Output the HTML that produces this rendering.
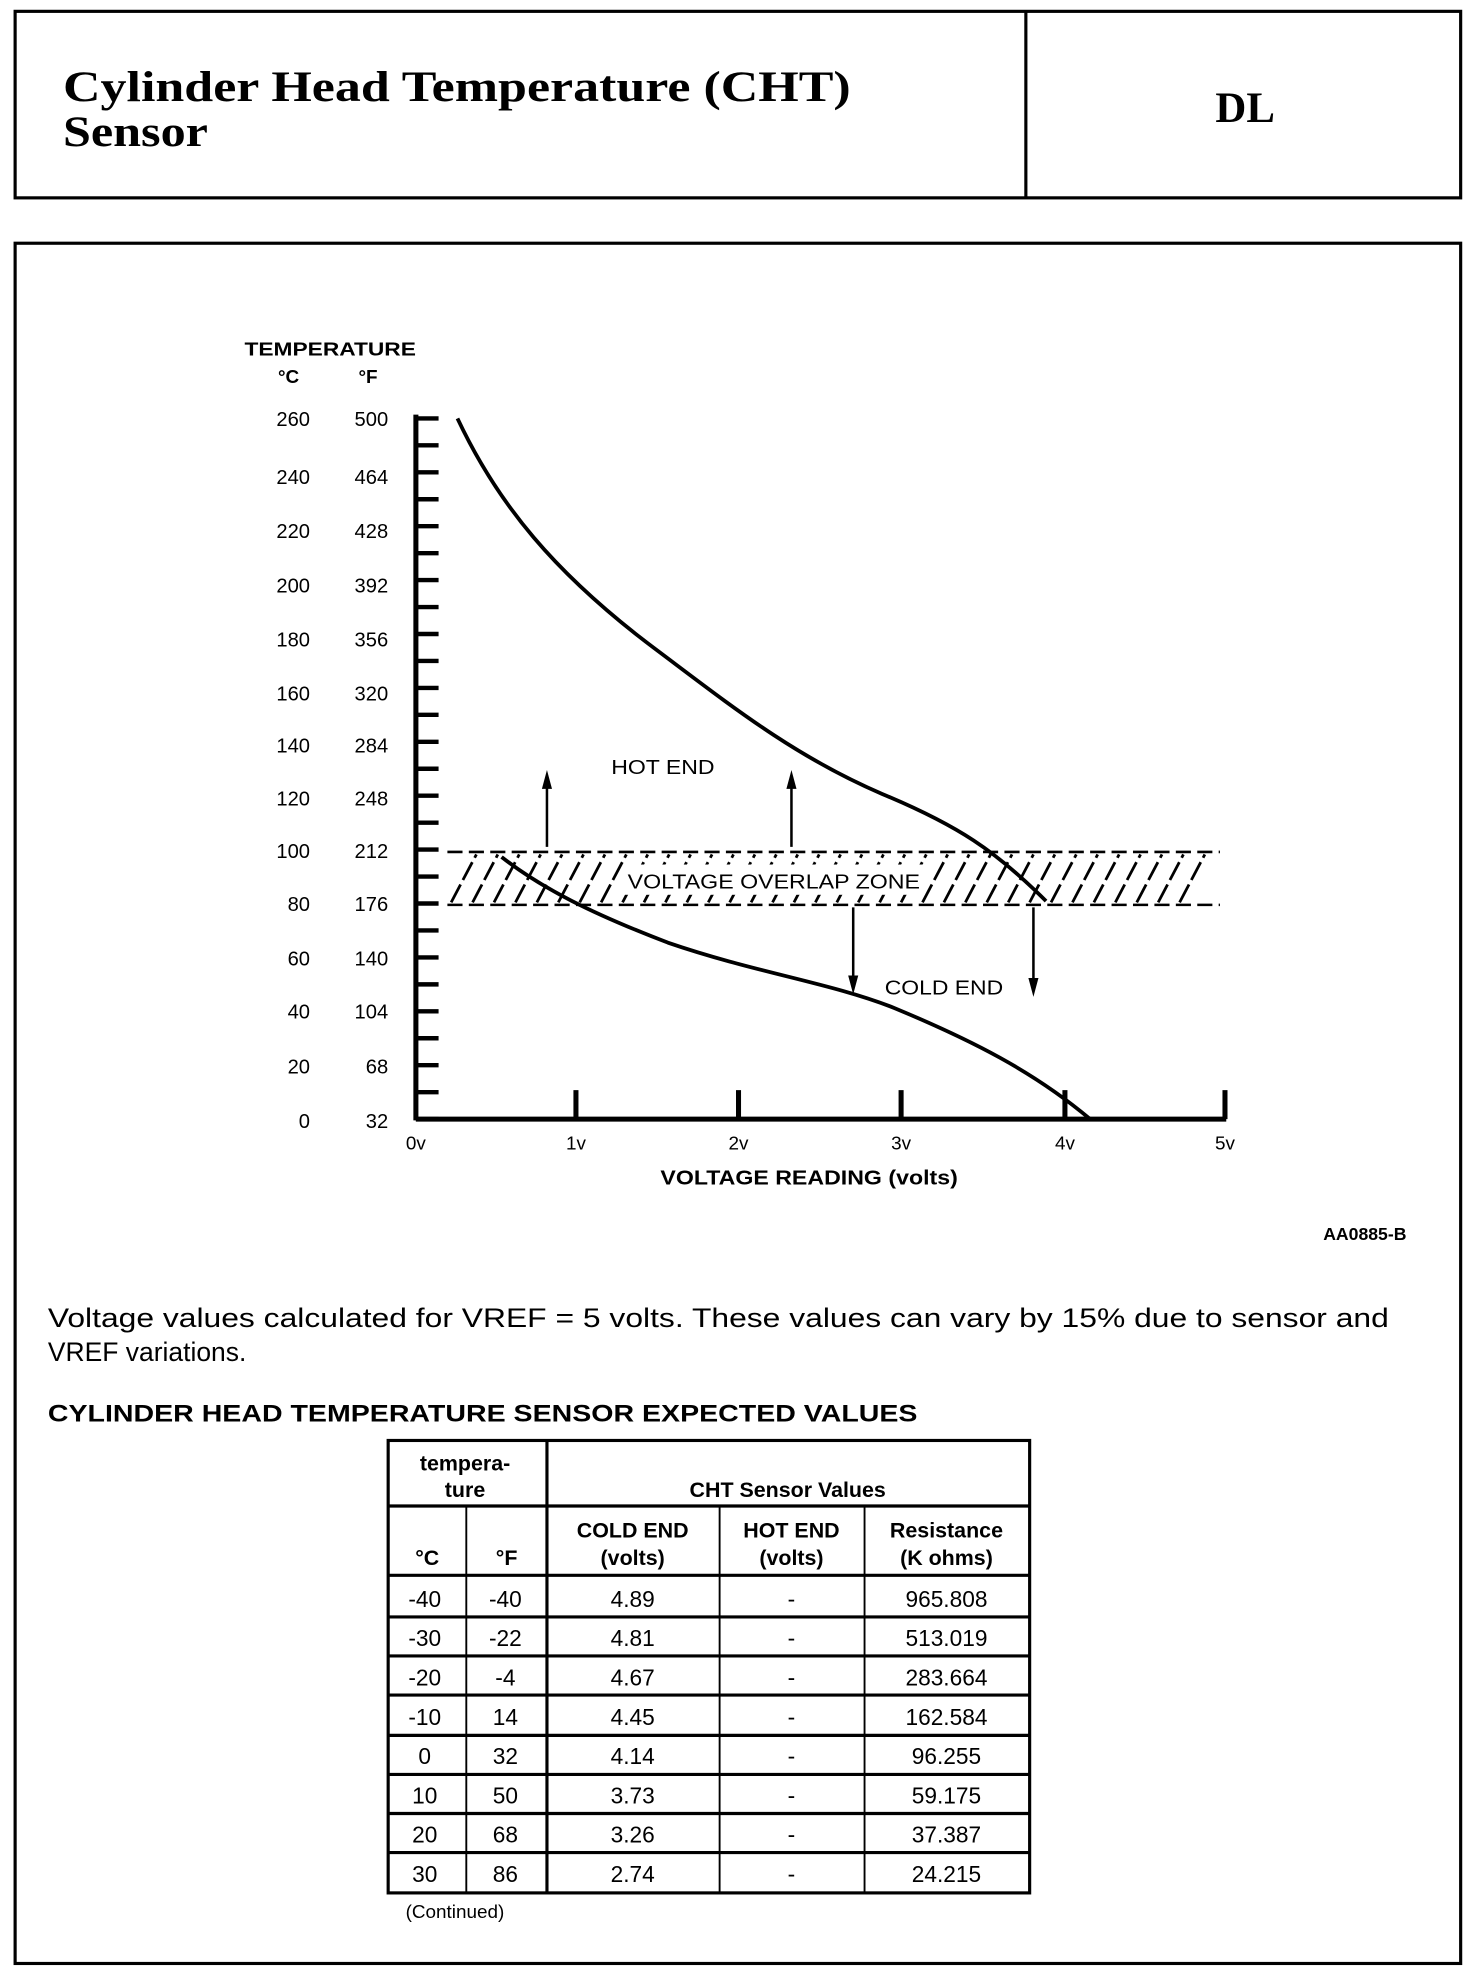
<!DOCTYPE html>
<html><head><meta charset="utf-8"><style>
html,body{margin:0;padding:0;background:#fff}
svg{display:block}
text{font-family:"Liberation Sans",Arial,sans-serif;fill:#000}
.s{font-family:"Liberation Serif","Times New Roman",serif;font-weight:bold}
.b{font-weight:bold}
</style></head><body>
<svg width="1472" height="1966" viewBox="0 0 1168 1560" preserveAspectRatio="none">
<!-- header -->
<rect x="12" y="9" width="1147" height="148" fill="none" stroke="#000" stroke-width="2.5"/>
<line x1="814" y1="9" x2="814" y2="157" stroke="#000" stroke-width="2.5"/>
<text class="s" x="50" y="80" font-size="34" textLength="625" lengthAdjust="spacingAndGlyphs">Cylinder Head Temperature (CHT)</text>
<text class="s" x="50" y="116" font-size="34" textLength="115" lengthAdjust="spacingAndGlyphs">Sensor</text>
<text class="s" x="988" y="97" font-size="34" text-anchor="middle">DL</text>
<!-- main box -->
<rect x="12" y="193" width="1147" height="1365" fill="none" stroke="#000" stroke-width="2.5"/>
<!-- axis labels -->
<text class="b" x="262" y="282" font-size="15" text-anchor="middle" textLength="136" lengthAdjust="spacingAndGlyphs">TEMPERATURE</text>
<text class="b" x="229" y="304" font-size="15" text-anchor="middle">°C</text>
<text class="b" x="292" y="304" font-size="15" text-anchor="middle">°F</text>
<g font-size="16" text-anchor="end">
<text x="246" y="338">260</text><text x="308" y="338">500</text>
<text x="246" y="384">240</text><text x="308" y="384">464</text>
<text x="246" y="427">220</text><text x="308" y="427">428</text>
<text x="246" y="470">200</text><text x="308" y="470">392</text>
<text x="246" y="513">180</text><text x="308" y="513">356</text>
<text x="246" y="556">160</text><text x="308" y="556">320</text>
<text x="246" y="597">140</text><text x="308" y="597">284</text>
<text x="246" y="639">120</text><text x="308" y="639">248</text>
<text x="246" y="681">100</text><text x="308" y="681">212</text>
<text x="246" y="723">80</text><text x="308" y="723">176</text>
<text x="246" y="766">60</text><text x="308" y="766">140</text>
<text x="246" y="808">40</text><text x="308" y="808">104</text>
<text x="246" y="852">20</text><text x="308" y="852">68</text>
<text x="246" y="895">0</text><text x="308" y="895">32</text>
</g>
<!-- axes -->
<line x1="330" y1="329" x2="330" y2="889" stroke="#000" stroke-width="4"/>
<line x1="330" y1="888" x2="973" y2="888" stroke="#000" stroke-width="4"/>
<g stroke="#000" stroke-width="3.5" id="ticks"></g>
<g stroke="#000" stroke-width="4">
<line x1="457" y1="865" x2="457" y2="888"/><line x1="586" y1="865" x2="586" y2="888"/>
<line x1="715" y1="865" x2="715" y2="888"/><line x1="845" y1="865" x2="845" y2="888"/>
<line x1="972" y1="865" x2="972" y2="888"/>
</g>
<g font-size="15" text-anchor="middle">
<text x="330" y="912">0v</text><text x="457" y="912">1v</text><text x="586" y="912">2v</text>
<text x="715" y="912">3v</text><text x="845" y="912">4v</text><text x="972" y="912">5v</text>
</g>
<text class="b" x="642" y="940" font-size="16" text-anchor="middle" textLength="236" lengthAdjust="spacingAndGlyphs">VOLTAGE READING (volts)</text>
<!-- overlap zone -->
<g stroke="#000" stroke-width="2" stroke-dasharray="12,5">
<line x1="355" y1="676" x2="968" y2="676"/><line x1="355" y1="718" x2="968" y2="718"/>
</g>
<g stroke="#000" stroke-width="2.2" id="hatch"></g>
<rect x="494" y="686" width="240" height="24" fill="#fff"/>
<text x="614" y="705" font-size="16" text-anchor="middle" textLength="232" lengthAdjust="spacingAndGlyphs">VOLTAGE OVERLAP ZONE</text>
<!-- curves -->
<path d="M363,332 C395,400 440,455 520,515 C580,560 630,600 700,630 C760,655 790,675 830,715" fill="none" stroke="#000" stroke-width="3"/>
<path d="M398,680 C430,705 470,725 530,748 C600,772 660,780 710,800 C770,825 820,850 865,888" fill="none" stroke="#000" stroke-width="3"/>
<!-- arrows -->
<g stroke="#000" stroke-width="2">
<line x1="434" y1="672" x2="434" y2="620"/><line x1="628" y1="672" x2="628" y2="620"/>
<line x1="677" y1="720" x2="677" y2="780"/><line x1="820" y1="720" x2="820" y2="782"/>
</g>
<g fill="#000">
<polygon points="430,626 434,611 438,626"/><polygon points="624,626 628,611 632,626"/>
<polygon points="673,774 677,789 681,774"/><polygon points="816,776 820,791 824,776"/>
</g>
<text x="526" y="614" font-size="16" text-anchor="middle" textLength="82" lengthAdjust="spacingAndGlyphs">HOT END</text>
<text x="749" y="789" font-size="16" text-anchor="middle" textLength="94" lengthAdjust="spacingAndGlyphs">COLD END</text>
<text class="b" x="1116" y="984" font-size="14" text-anchor="end">AA0885-B</text>
<!-- paragraph -->
<text x="38" y="1053" font-size="21" textLength="1064" lengthAdjust="spacingAndGlyphs">Voltage values calculated for VREF = 5 volts. These values can vary by 15% due to sensor and</text>
<text x="38" y="1080" font-size="21">VREF variations.</text>
<text class="b" x="38" y="1128" font-size="19" textLength="690" lengthAdjust="spacingAndGlyphs">CYLINDER HEAD TEMPERATURE SENSOR EXPECTED VALUES</text>
<!-- table -->
<g stroke="#000" stroke-width="2.5" fill="none">
<rect x="308" y="1143" width="509" height="359"/>
<line x1="308" y1="1195" x2="817" y2="1195"/>
<line x1="308" y1="1250" x2="817" y2="1250"/>
<line x1="308" y1="1283" x2="817" y2="1283"/><line x1="308" y1="1314" x2="817" y2="1314"/>
<line x1="308" y1="1345" x2="817" y2="1345"/><line x1="308" y1="1377" x2="817" y2="1377"/>
<line x1="308" y1="1408" x2="817" y2="1408"/><line x1="308" y1="1439" x2="817" y2="1439"/>
<line x1="308" y1="1470" x2="817" y2="1470"/>
<line x1="434" y1="1143" x2="434" y2="1502"/>
</g>
<g stroke="#000" stroke-width="1.5">
<line x1="370" y1="1195" x2="370" y2="1502"/>
<line x1="571" y1="1195" x2="571" y2="1502"/>
<line x1="686" y1="1195" x2="686" y2="1502"/>
</g>
<g font-size="17" text-anchor="middle">
<text class="b" x="369" y="1167">tempera-</text><text class="b" x="369" y="1188">ture</text>
<text class="b" x="625" y="1188">CHT Sensor Values</text>
<text class="b" x="339" y="1242">°C</text><text class="b" x="402" y="1242">°F</text>
<text class="b" x="502" y="1220">COLD END</text><text class="b" x="502" y="1242">(volts)</text>
<text class="b" x="628" y="1220">HOT END</text><text class="b" x="628" y="1242">(volts)</text>
<text class="b" x="751" y="1220">Resistance</text><text class="b" x="751" y="1242">(K ohms)</text>
</g>
<g font-size="18" text-anchor="middle" id="rows"></g>
<text x="361" y="1522" font-size="15" text-anchor="middle">(Continued)</text>
</svg>
<script>
var ns="http://www.w3.org/2000/svg";
function el(p,t,a,txt){var e=document.createElementNS(ns,t);for(var k in a)e.setAttribute(k,a[k]);if(txt)e.textContent=txt;p.appendChild(e);return e;}
var tk=document.getElementById('ticks');
for(var i=0;i<=26;i++){var y=332+i*(888-332)/26;el(tk,'line',{x1:330,y1:y,x2:348,y2:y});}
var h=document.getElementById('hatch');
for(var x=358;x<=945;x+=17){el(h,'line',{x1:x,y1:716,x2:x+20,y2:678,'stroke-dasharray':'16,4'});}
var rows=[["-40","-40","4.89","965.808"],["-30","-22","4.81","513.019"],["-20","-4","4.67","283.664"],["-10","14","4.45","162.584"],["0","32","4.14","96.255"],["10","50","3.73","59.175"],["20","68","3.26","37.387"],["30","86","2.74","24.215"]];
var r=document.getElementById('rows');
rows.forEach(function(d,i){var y=1275+i*31.2;
el(r,'text',{x:337,y:y},d[0]);el(r,'text',{x:401,y:y},d[1]);el(r,'text',{x:502,y:y},d[2]);el(r,'text',{x:628,y:y},'-');el(r,'text',{x:751,y:y},d[3]);});
</script>
</body></html>
